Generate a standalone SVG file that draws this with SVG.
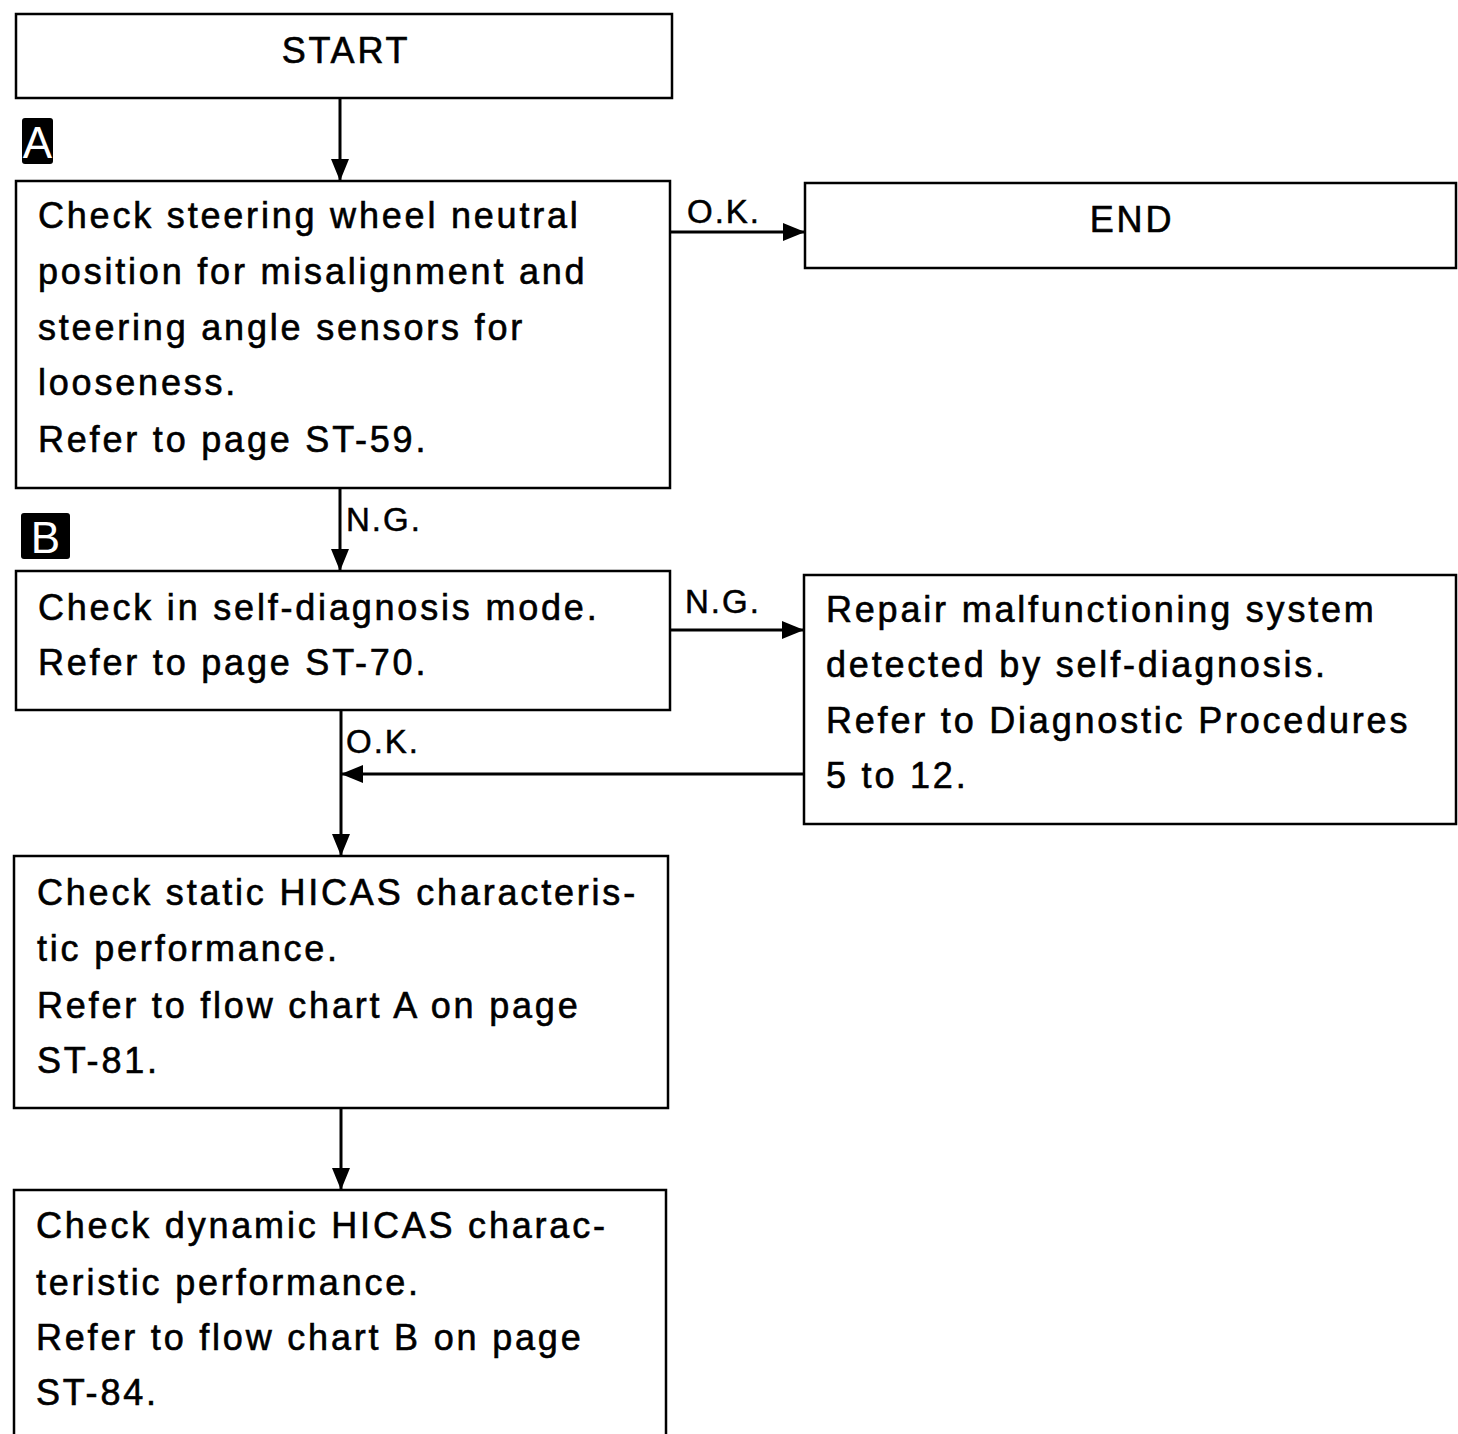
<svg xmlns="http://www.w3.org/2000/svg" width="1458" height="1434" viewBox="0 0 1458 1434">
<style>
.box{fill:#fff;stroke:#000;stroke-width:2.5}
.t{font-family:"Liberation Sans",Arial,sans-serif;font-size:36px;letter-spacing:2.8px;fill:#000;stroke:#000;stroke-width:0.6}
.lbl{font-family:"Liberation Sans",Arial,sans-serif;font-size:33px;letter-spacing:2px;fill:#000;stroke:#000;stroke-width:0.5}
.c{text-anchor:middle}
.badge{fill:#000}
.bt{font-family:"Liberation Sans",Arial,sans-serif;font-size:44px;fill:#fff;text-anchor:middle}
.conn{fill:none;stroke:#000;stroke-width:3}
</style>
<defs>
<marker id="ah" markerWidth="22" markerHeight="18" refX="21" refY="9" orient="auto" markerUnits="userSpaceOnUse">
<path d="M0,0 L22,9 L0,18 Z" fill="#000"/>
</marker>
</defs>
<rect width="1458" height="1434" fill="#fff"/>
<g id="badge-a"><rect class="badge" x="22" y="118" width="31" height="46" rx="3"/><text class="bt" x="37.5" y="158">A</text></g>
<g id="badge-b"><rect class="badge" x="21" y="513" width="49" height="46" rx="3"/><text class="bt" x="45.5" y="553">B</text></g>
<g id="start"><rect class="box" x="16" y="14" width="656" height="84"/><text class="t c" x="346" y="63">START</text></g>
<g id="check-neutral"><rect class="box" x="16" y="181" width="654" height="307"/>
<text class="t" x="38" y="228">Check steering wheel neutral</text>
<text class="t" x="38" y="284">position for misalignment and</text>
<text class="t" x="38" y="340">steering angle sensors for</text>
<text class="t" x="38" y="395">looseness.</text>
<text class="t" x="38" y="452">Refer to page ST-59.</text></g>
<g id="end"><rect class="box" x="805" y="183" width="651" height="85"/><text class="t c" x="1132" y="232">END</text></g>
<g id="self-diag"><rect class="box" x="16" y="571" width="654" height="139"/>
<text class="t" x="38" y="620">Check in self-diagnosis mode.</text>
<text class="t" x="38" y="675">Refer to page ST-70.</text></g>
<g id="repair"><rect class="box" x="804" y="575" width="652" height="249"/>
<text class="t" x="826" y="622">Repair malfunctioning system</text>
<text class="t" x="826" y="677">detected by self-diagnosis.</text>
<text class="t" x="826" y="733">Refer to Diagnostic Procedures</text>
<text class="t" x="826" y="788">5 to 12.</text></g>
<g id="static"><rect class="box" x="14" y="856" width="654" height="252"/>
<text class="t" x="37" y="905">Check static HICAS characteris-</text>
<text class="t" x="37" y="961">tic performance.</text>
<text class="t" x="37" y="1018">Refer to flow chart A on page</text>
<text class="t" x="37" y="1073">ST-81.</text></g>
<g id="dynamic"><rect class="box" x="14" y="1190" width="652" height="260"/>
<text class="t" x="36" y="1238">Check dynamic HICAS charac-</text>
<text class="t" x="36" y="1295">teristic performance.</text>
<text class="t" x="36" y="1350">Refer to flow chart B on page</text>
<text class="t" x="36" y="1405">ST-84.</text></g>
<g id="connectors">
<line class="conn" x1="340" y1="98" x2="340" y2="180" marker-end="url(#ah)"/>
<line class="conn" x1="670" y1="232" x2="804" y2="232" marker-end="url(#ah)"/>
<text class="lbl" x="687" y="223">O.K.</text>
<line class="conn" x1="340" y1="488" x2="340" y2="570" marker-end="url(#ah)"/>
<text class="lbl" x="346" y="531">N.G.</text>
<line class="conn" x1="670" y1="630" x2="803" y2="630" marker-end="url(#ah)"/>
<text class="lbl" x="685" y="613">N.G.</text>
<line class="conn" x1="804" y1="774" x2="342" y2="774" marker-end="url(#ah)"/>
<line class="conn" x1="341" y1="710" x2="341" y2="855" marker-end="url(#ah)"/>
<text class="lbl" x="346" y="753">O.K.</text>
<line class="conn" x1="341" y1="1108" x2="341" y2="1189" marker-end="url(#ah)"/>
</g>
</svg>
